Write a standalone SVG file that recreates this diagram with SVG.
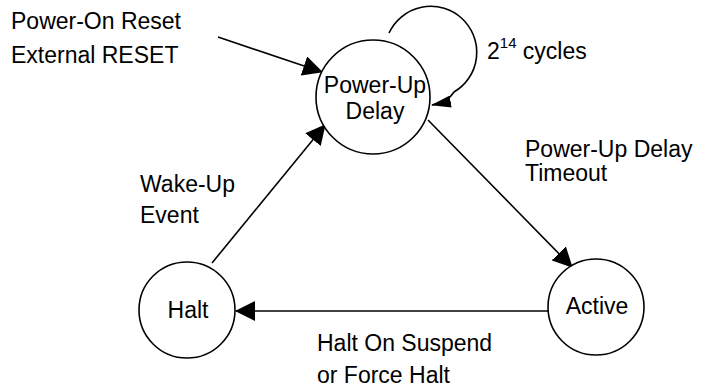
<svg xmlns="http://www.w3.org/2000/svg" width="702" height="390" viewBox="0 0 702 390">
<defs>
<marker id="ah" markerWidth="20" markerHeight="20" viewBox="0 0 20 20" refX="19" refY="10" orient="auto" markerUnits="userSpaceOnUse">
<path d="M0,0 L20,10 L0,20 Z" fill="#000"/>
</marker>
<marker id="ah2" markerWidth="20" markerHeight="12" viewBox="0 0 20 12" refX="19" refY="6" orient="auto" markerUnits="userSpaceOnUse">
<path d="M0,0 L20,6 L0,12 Z" fill="#000"/>
</marker>
<style>
text{font-family:"Liberation Sans",Arial,sans-serif;font-size:23px;fill:#000}
.node circle{fill:#fff;stroke:#000;stroke-width:1.6}
.mid{text-anchor:middle}
#connectors path,#connectors line{stroke:#000;stroke-width:1.6;fill:none}
</style>
</defs>
<rect width="702" height="390" fill="#fff"/>
<g id="connectors">
<line x1="218" y1="37" x2="322" y2="72" marker-end="url(#ah)"/>
<path d="M389,33 A46,46 0 1 1 454,92 Q448,102 432,105" marker-end="url(#ah2)"/>
<line x1="428" y1="120" x2="572" y2="267" marker-end="url(#ah)"/>
<line x1="548" y1="311" x2="236" y2="311" marker-end="url(#ah)"/>
<line x1="212" y1="263" x2="325" y2="125" marker-end="url(#ah)"/>
</g>
<g id="powerup" class="node">
<circle cx="373" cy="97" r="57"/>
<text class="mid" x="375" y="93">Power-Up</text>
<text class="mid" x="375" y="119">Delay</text>
</g>
<g id="halt" class="node">
<circle cx="187" cy="310" r="48"/>
<text class="mid" x="188" y="318">Halt</text>
</g>
<g id="active" class="node">
<circle cx="596" cy="307" r="48"/>
<text class="mid" x="597" y="314">Active</text>
</g>
<g id="labels">
<text x="11" y="29">Power-On Reset</text>
<text x="11" y="63">External RESET</text>
<text x="487" y="59">2<tspan font-size="15" dy="-11">14</tspan><tspan dy="11"> cycles</tspan></text>
<text x="525" y="157">Power-Up Delay</text>
<text x="525" y="181">Timeout</text>
<text x="140" y="192">Wake-Up</text>
<text x="140" y="223">Event</text>
<text x="317" y="351">Halt On Suspend</text>
<text x="317" y="383">or Force Halt</text>
</g>
</svg>
